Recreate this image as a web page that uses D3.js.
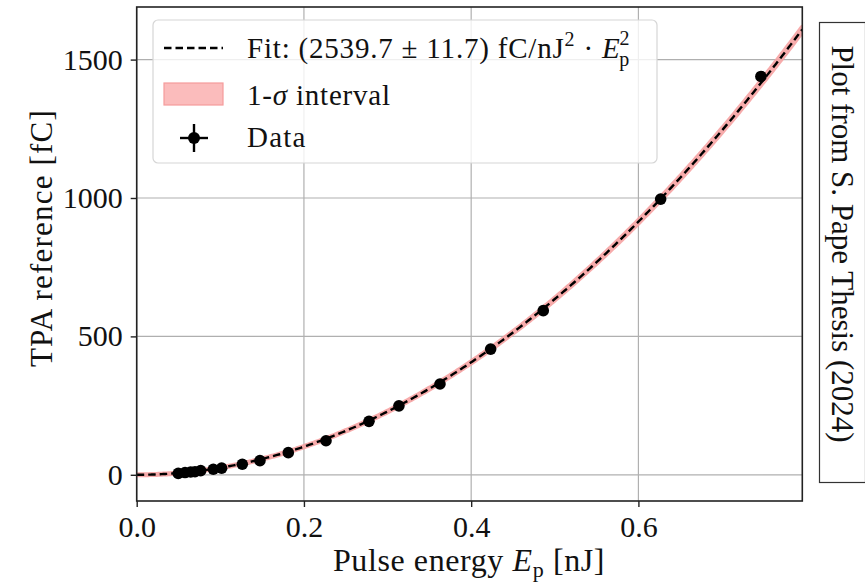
<!DOCTYPE html>
<html>
<head>
<meta charset="utf-8">
<script src="https://cdn.jsdelivr.net/npm/d3@7/dist/d3.min.js"></script>
<style>
  html, body { margin: 0; padding: 0; background: #fff; }
  svg { display: block; font-family: "Liberation Serif", "DejaVu Serif", serif; }
</style>
</head>
<body>
<svg id="chart" width="865" height="586"></svg>
<script>
// Measured TPA reference charge versus pulse energy
const energy = [0.0497, 0.0578, 0.0646, 0.0697, 0.0765, 0.0916, 0.1016, 0.1263, 0.1474,
                0.1813, 0.2264, 0.2778, 0.3136, 0.3627, 0.4233, 0.4862, 0.6266, 0.7465];
const charge = [5, 8, 10, 11, 15, 20, 24, 38, 51,
                80, 123, 193, 249, 328, 454, 593, 996, 1439];

// Quadratic fit Q = a * E^2 and its 1-sigma uncertainty
const fitCoeff = 2539.7;
const fitSigma = 11.7;

const xTicks = [0.0, 0.2, 0.4, 0.6];
const xTickLabels = ["0.0", "0.2", "0.4", "0.6"];
const yTicks = [0, 500, 1000, 1500];
const yTickLabels = ["0", "500", "1000", "1500"];

const svg = d3.select("#chart");
const plot = { left: 136.7, right: 802.3, top: 7, bottom: 501 };

const x = d3.scaleLinear().domain([0, 0.796]).range([plot.left, plot.right]);
const y = d3.scaleLinear().domain([-94.7, 1690]).range([plot.bottom, plot.top]);

svg.append("defs").append("clipPath").attr("id", "plotclip")
  .append("rect").attr("x", plot.left).attr("y", plot.top)
  .attr("width", plot.right - plot.left).attr("height", plot.bottom - plot.top);

// grid
const grid = svg.append("g");
grid.selectAll("line.gx").data(xTicks).join("line")
  .attr("x1", d => x(d)).attr("x2", d => x(d))
  .attr("y1", plot.top).attr("y2", plot.bottom)
  .attr("stroke", "#b0b0b0").attr("stroke-width", 1.2);
grid.selectAll("line.gy").data(yTicks).join("line")
  .attr("x1", plot.left).attr("x2", plot.right)
  .attr("y1", d => y(d)).attr("y2", d => y(d))
  .attr("stroke", "#b0b0b0").attr("stroke-width", 1.2);

// fit curve and band
const eGrid = d3.range(0, 0.7961, 0.002);
const body = svg.append("g").attr("clip-path", "url(#plotclip)");
const band = d3.area()
  .x(d => x(d))
  .y0(d => y((fitCoeff - fitSigma) * d * d))
  .y1(d => y((fitCoeff + fitSigma) * d * d));
body.append("path").datum(eGrid).attr("d", band)
  .attr("fill", "#f9a7a7").attr("stroke", "#f7a3a3").attr("stroke-width", 5)
  .attr("stroke-linejoin", "round").attr("opacity", 0.9);
const fitLine = d3.line().x(d => x(d)).y(d => y(fitCoeff * d * d));
body.append("path").datum(eGrid).attr("d", fitLine)
  .attr("fill", "none").attr("stroke", "#000").attr("stroke-width", 2.4)
  .attr("stroke-dasharray", "7.5,4");

// data markers
body.selectAll("circle.pt").data(energy).join("circle")
  .attr("cx", d => x(d)).attr("cy", (d, i) => y(charge[i]))
  .attr("r", 5.8).attr("fill", "#000");

// axes frame
svg.append("rect").attr("x", plot.left).attr("y", plot.top)
  .attr("width", plot.right - plot.left).attr("height", plot.bottom - plot.top)
  .attr("fill", "none").attr("stroke", "#222").attr("stroke-width", 1.6);

// x axis
const xAxis = d3.axisBottom(x).tickValues(xTicks).tickFormat((d, i) => xTickLabels[i])
  .tickSize(6).tickPadding(9);
const gx = svg.append("g").attr("transform", `translate(0,${plot.bottom})`).call(xAxis);
gx.select(".domain").remove();
gx.selectAll(".tick line").attr("stroke", "#222").attr("stroke-width", 1.4);
gx.selectAll(".tick text").attr("font-size", 30).attr("fill", "#111")
  .attr("font-family", "Liberation Serif, serif");

// y axis
const yAxis = d3.axisLeft(y).tickValues(yTicks).tickFormat((d, i) => yTickLabels[i])
  .tickSize(6).tickPadding(8);
const gy = svg.append("g").attr("transform", `translate(${plot.left},0)`).call(yAxis);
gy.select(".domain").remove();
gy.selectAll(".tick line").attr("stroke", "#222").attr("stroke-width", 1.4);
gy.selectAll(".tick text").attr("font-size", 30).attr("fill", "#111")
  .attr("font-family", "Liberation Serif, serif");

// axis titles
const xt = svg.append("text").attr("x", 469).attr("y", 571)
  .attr("text-anchor", "middle").attr("font-size", 32).attr("letter-spacing", 0.6)
  .attr("fill", "#111");
xt.append("tspan").text("Pulse energy ");
xt.append("tspan").attr("font-style", "italic").text("E");
xt.append("tspan").attr("font-size", 22).attr("dy", 6).text("p");
xt.append("tspan").attr("dy", -6).text(" [nJ]");

svg.append("text").attr("transform", `translate(52,238) rotate(-90)`)
  .attr("text-anchor", "middle").attr("font-size", 31).attr("letter-spacing", 1.2)
  .attr("fill", "#111")
  .text("TPA reference [fC]");

// legend
const lg = svg.append("g");
lg.append("rect").attr("x", 153).attr("y", 20).attr("width", 504).attr("height", 143)
  .attr("rx", 5).attr("fill", "#fff").attr("fill-opacity", 0.8)
  .attr("stroke", "#d6d6d6").attr("stroke-width", 1.2);
lg.append("line").attr("x1", 164).attr("x2", 223).attr("y1", 48).attr("y2", 48)
  .attr("stroke", "#000").attr("stroke-width", 2.4).attr("stroke-dasharray", "7.5,4");
lg.append("rect").attr("x", 164).attr("y", 83).attr("width", 59).attr("height", 22)
  .attr("fill", "#fbbcbc").attr("stroke", "#f59c9c").attr("stroke-width", 1.2);
lg.append("line").attr("x1", 180).attr("x2", 208).attr("y1", 138).attr("y2", 138)
  .attr("stroke", "#000").attr("stroke-width", 2.4);
lg.append("line").attr("x1", 194).attr("x2", 194).attr("y1", 124).attr("y2", 152)
  .attr("stroke", "#000").attr("stroke-width", 2.4);
lg.append("circle").attr("cx", 194).attr("cy", 138).attr("r", 6).attr("fill", "#000");

const lfs = 29;
const t1 = lg.append("text").attr("x", 247).attr("y", 58).attr("font-size", lfs)
  .attr("letter-spacing", 0.8).attr("fill", "#111");
t1.append("tspan").text("Fit:  (2539.7 \u00b1 11.7) fC/nJ");
t1.append("tspan").attr("font-size", 20).attr("dy", -12).text("2");
t1.append("tspan").attr("dy", 12).text(" \u00b7 ");
t1.append("tspan").attr("font-style", "italic").text("E");
t1.append("tspan").attr("font-size", 20).attr("dx", -1).attr("dy", -13).text("2");
t1.append("tspan").attr("font-size", 20).attr("dx", -11).attr("dy", 21).text("p");

const t2 = lg.append("text").attr("x", 247).attr("y", 105).attr("font-size", lfs)
  .attr("letter-spacing", 0.8).attr("fill", "#111");
t2.append("tspan").text("1-");
t2.append("tspan").attr("font-style", "italic").text("\u03c3");
t2.append("tspan").text(" interval");

lg.append("text").attr("x", 247).attr("y", 147).attr("font-size", lfs)
  .attr("letter-spacing", 1.2).attr("fill", "#111")
  .text("Data");

// attribution box
svg.append("rect").attr("x", 819.5).attr("y", 22.5).attr("width", 46).attr("height", 460)
  .attr("fill", "#fff").attr("stroke", "#333").attr("stroke-width", 1.2);
svg.append("text").attr("transform", "translate(832,244) rotate(90)")
  .attr("text-anchor", "middle").attr("font-size", 31).attr("fill", "#111")
  .text("Plot from S. Pape Thesis (2024)");
</script>
</body>
</html>
